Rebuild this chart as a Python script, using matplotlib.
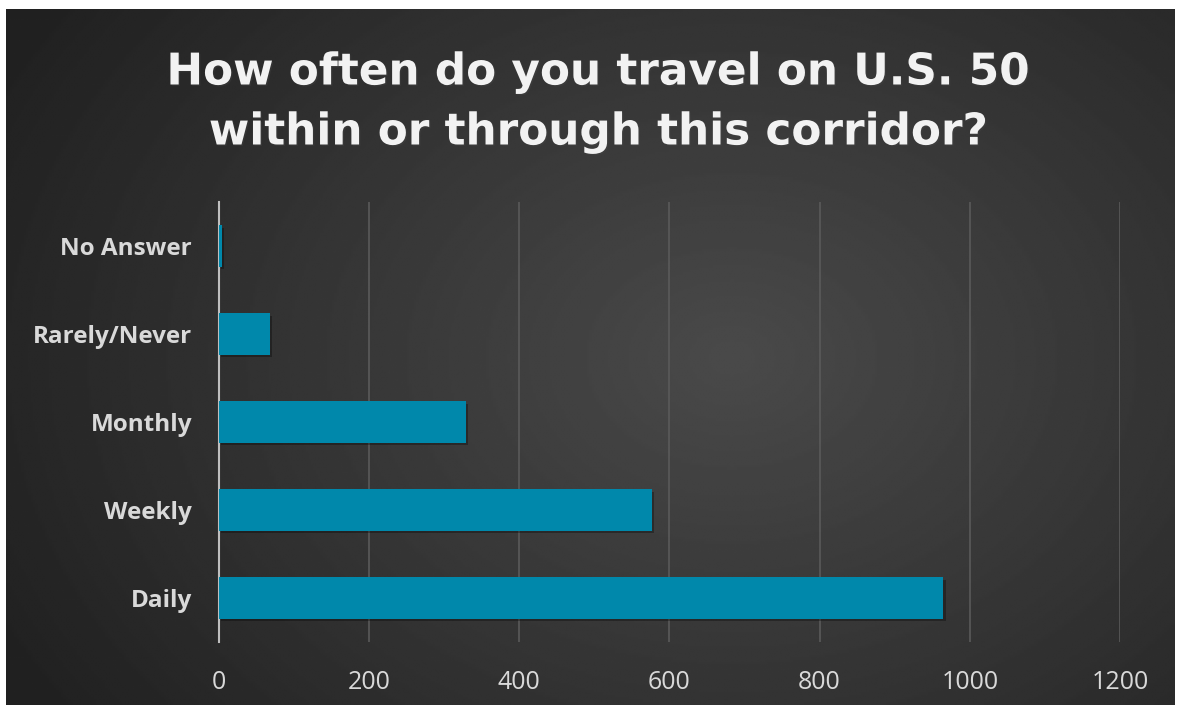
import matplotlib
matplotlib.use("Agg")
import matplotlib.pyplot as plt
import matplotlib.patheffects as pe
import numpy as np

categories = ["Daily", "Weekly", "Monthly", "Rarely/Never", "No Answer"]
counts = [965, 577, 329, 69, 5]
x_ticks = [0, 200, 400, 600, 800, 1000, 1200]
title = "How often do you travel on U.S. 50\nwithin or through this corridor?"

W, H, DPI = 1177, 710, 100
BAR_COLOR = "#0088ab"
TEXT_COLOR = "#d9d9d9"

plt.rcParams["font.family"] = ["Open Sans", "DejaVu Sans"]

fig = plt.figure(figsize=(W / DPI, H / DPI), dpi=DPI, facecolor="white")

# dark background panel with a soft radial glow
bg = fig.add_axes([6 / W, 5 / H, 1169 / W, 696 / H])
yy, xx = np.mgrid[0:300, 0:500]
cx, cy = 0.62 * 500, 0.5 * 300
r = np.sqrt(((xx - cx) / 500) ** 2 + ((yy - cy) / 380) ** 2)
shade = 0.29 - 0.16 * np.clip(r / 0.7, 0, 1)
bg.imshow(shade, cmap="gray", vmin=0, vmax=1, aspect="auto",
          extent=[0, 1, 0, 1], interpolation="bilinear")
bg.set_axis_off()

ax = fig.add_axes([218.5 / W, 68 / H, (1120 - 218.5) / W, 440 / H])
ax.set_facecolor("none")

y = np.arange(len(categories))
shadow = [pe.SimplePatchShadow(offset=(1.5, -2), shadow_rgbFace="black", alpha=0.3), pe.Normal()]
bars = ax.barh(y, counts, height=0.47, color=BAR_COLOR, zorder=5)
for b in bars:
    b.set_path_effects(shadow)

ax.set_xlim(0, 1200)
ax.set_ylim(-0.5, len(categories) - 0.5)
ax.set_xticks(x_ticks)
ax.set_yticks(y)
ax.set_yticklabels(categories, fontsize=17.5, fontweight="bold", color=TEXT_COLOR)
ax.tick_params(axis="x", length=0, pad=20, labelsize=18, labelcolor=TEXT_COLOR)
ax.tick_params(axis="y", length=0, pad=19)
ax.grid(axis="x", color="#5a5a5a", linewidth=1.2, zorder=0)
for s in ["top", "right", "bottom"]:
    ax.spines[s].set_visible(False)
ax.spines["left"].set_color("#bfbfbf")
ax.spines["left"].set_linewidth(1.5)
ax.spines["left"].set_zorder(4)

fig.text(598 / W, 1 - 102 / H, title, ha="center", va="center", fontsize=31.5,
         fontweight="bold", color="#f2f2f2", linespacing=1.5,
         family=["DejaVu Sans"],
         path_effects=[pe.withSimplePatchShadow(offset=(1, -1), alpha=0.3)])

fig.savefig("out.png", dpi=DPI, facecolor="white")
